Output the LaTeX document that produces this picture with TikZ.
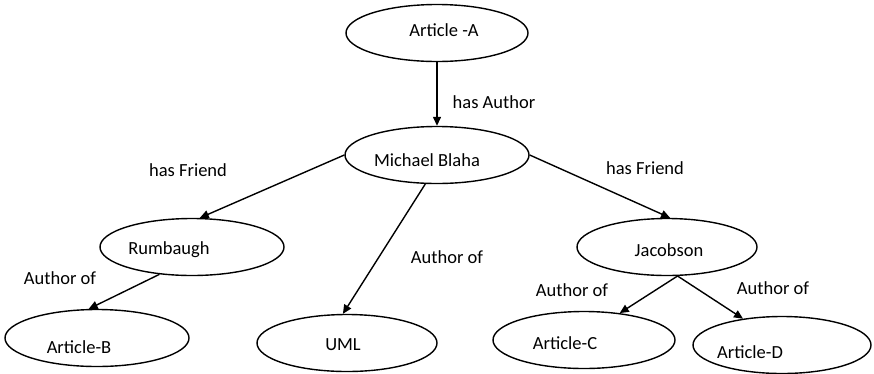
\documentclass[tikz,border=0pt]{standalone}
\usepackage{fontspec}
\setmainfont{Carlito}
\usetikzlibrary{shapes.geometric,arrows.meta}
\begin{document}
\begin{tikzpicture}[x=1pt,y=-1pt,
  every label/.style={font=\fontsize{18.5}{20}\selectfont, inner sep=0},
  entity/.style={ellipse, draw, line width=1.4pt, minimum width=182pt,
                 minimum height=57pt, inner sep=0},
  rel/.style={-{Triangle[length=9pt,width=8pt]}, line width=1.4pt},
  tag/.style={font=\fontsize{18.5}{20}\selectfont, inner sep=0}]
\useasboundingbox (0,0) rectangle (874,373);

% entities
\node[entity, label={[shift={(7,-3)}]center:Article -A}] (artA) at (437,33) {};
\node[entity, minimum width=184pt, label={[shift={(-10,5)}]center:Michael Blaha}] (blaha) at (437,155) {};
\node[entity, minimum width=184pt, label={[shift={(-23,3)}]center:Rumbaugh}] (rumb) at (192,247) {};
\node[entity, minimum width=184pt, label={[shift={(-18,9)}]center:Article-B}] (artB) at (97,338) {};
\node[entity, minimum width=180pt, label={[shift={(-4,2)}]center:UML}] (uml) at (347,343) {};
\node[entity, minimum width=180pt, label={[shift={(2,3)}]center:Jacobson}] (jac) at (667,247) {};
\node[entity, label={[shift={(-19,3)}]center:Article-C}] (artC) at (584,340) {};
\node[entity, minimum width=178pt, label={[shift={(-32,7)}]center:Article-D}] (artD) at (782,345) {};

% relations
\draw[rel] (artA.south) -- (blaha.north);
\draw[rel] (blaha.180) -- (rumb.75);
\draw[rel] (blaha.0) -- (jac.84);
\draw[rel] (blaha.248) -- (uml.98);
\draw[rel] (rumb.220) -- (artB.106);
\draw[rel] (jac.290) -- (artC.37);
\draw[rel] (jac.290) -- (artD.146);

% relation names
\node[tag] (lAuthor) at (494,102) {has Author};
\node[tag] (lFriendL) at (188,170) {has Friend};
\node[tag] (lFriendR) at (645,168) {has Friend};
\node[tag] (lUml) at (447,257) {Author of};
\node[tag] (lB) at (60,278) {Author of};
\node[tag] (lC) at (572,290) {Author of};
\node[tag] (lD) at (773,288) {Author of};
\end{tikzpicture}
\end{document}
